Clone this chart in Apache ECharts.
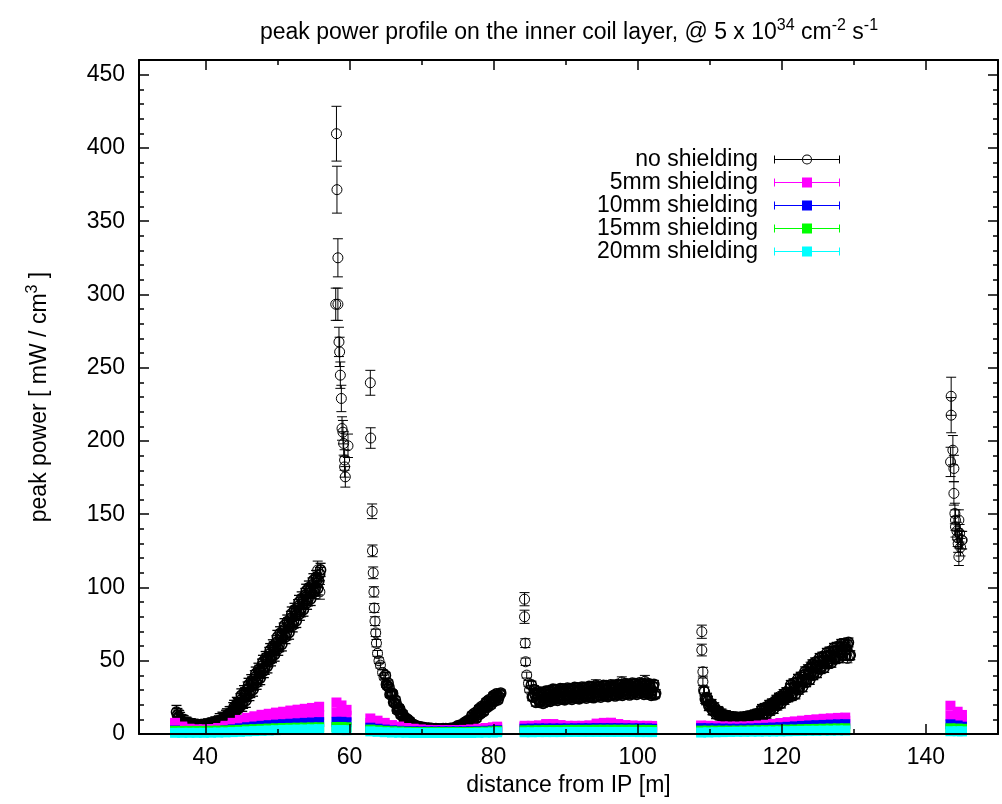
<!DOCTYPE html>
<html>
<head>
<meta charset="utf-8">
<script src="https://cdn.jsdelivr.net/npm/echarts@6/dist/echarts.min.js"></script>
<style>
  html, body { margin: 0; padding: 0; background: #fff; }
  #chart { width: 1002px; height: 804px; }
</style>
</head>
<body>
<div id="chart"></div>
<script>
const FONT = '"Liberation Sans", Arial, Helvetica, sans-serif';
const FS = 23;

// axis tick positions
const xTicks = [40, 60, 80, 100, 120, 140];
const xMinorTicks = [50, 70, 90, 110, 130];
const yTicks = [0, 50, 100, 150, 200, 250, 300, 350, 400, 450];
const yMinorTicks = [10, 20, 30, 40, 60, 70, 80, 90, 110, 120, 130, 140, 160, 170, 180, 190,
  210, 220, 230, 240, 260, 270, 280, 290, 310, 320, 330, 340, 360, 370, 380, 390,
  410, 420, 430, 440];

// ---- no shielding: isolated points [z (m), power, error] ----
const bareIsolatedA = [[55.6, 112, 6], [55.9, 97, 5]];
const bareIsolatedB = [[58.2, 409.7, 18.7], [58.27, 371.5, 16], [58.4, 325, 13], [58.1, 293.3, 11],
  [58.4, 293.3, 11], [58.55, 267.6, 10], [58.64, 260.8, 10], [58.74, 244.9, 9], [58.88, 229, 9],
  [58.97, 208.5, 8], [59.1, 206, 8], [59.2, 198.3, 8], [59.8, 196.7, 8], [59.33, 187, 7],
  [59.33, 182.3, 7], [59.43, 175.5, 7]];
const bareIsolatedC = [[62.9, 239.7, 8.5], [62.95, 202, 7], [63.15, 152, 5], [63.2, 125, 4],
  [63.3, 110, 4], [63.4, 97, 3.5], [63.45, 86, 3], [63.55, 77, 3], [63.65, 69, 2.5],
  [63.75, 62, 2.5], [63.9, 55, 2], [64.1, 50, 2], [64.3, 47, 2], [64.6, 42, 2], [64.8, 39, 2]];
const bareIsolatedD = [[84.3, 92, 4.5], [84.3, 80, 4.5], [84.4, 62, 3], [84.45, 49.3, 2.5],
  [84.6, 40.2, 2], [84.85, 34.6, 2], [85.0, 30, 1.5], [94.2, 33.5, 3.5], [97.8, 35.5, 3.5],
  [101.0, 36, 4]];
const bareIsolatedE = [[108.9, 69.8, 4.5], [108.9, 57.3, 4], [109.05, 42.5, 3], [109.05, 35.7, 2.5],
  [109.15, 30, 2], [119.6, 25.4, 2.5], [124.0, 46, 3], [128.9, 60.7, 3.5], [129.1, 51.6, 3]];
const bareIsolatedF = [[143.5, 230.5, 13], [143.5, 217.6, 12], [143.74, 193.7, 10], [143.42, 185.7, 10],
  [143.88, 181.2, 9], [143.88, 164.2, 8], [144.02, 150.5, 7], [144.1, 146, 7], [144.1, 141.4, 7],
  [144.57, 146, 7], [144.67, 137, 6], [144.95, 132.3, 6], [145.03, 132.3, 6], [144.47, 130, 6],
  [144.57, 121, 6], [144.3, 138.5, 6], [144.8, 127.5, 6], [144.4, 134, 6]];

// ---- no shielding: densely sampled stretches (0.125 m spacing) ----
const bareRunA = [
  15.0, 12.9, 11.8, 11.5, 10.2, 8.8, 8.4, 8.3, 8.0, 6.8, 6.6, 7.0, 6.4, 5.5, 5.7, 5.9,
  5.9, 4.9, 5.0, 5.6, 5.2, 4.5, 4.8, 5.2, 5.3, 4.4, 4.6, 5.3, 5.0, 4.4, 4.8, 5.3,
  5.5, 4.7, 5.0, 5.8, 5.6, 5.1, 5.6, 6.2, 6.5, 5.8, 6.2, 7.1, 7.0, 6.6, 7.2, 7.9,
  9.4, 7.0, 7.9, 10.4, 9.9, 8.4, 10.0, 11.7, 12.7, 10.6, 11.6, 14.2, 14.2, 11.6, 14.2, 16.9,
  18.5, 14.8, 16.3, 20.5, 19.8, 17.3, 20.1, 23.0, 26.3, 20.0, 22.0, 28.5, 27.0, 22.7, 26.8, 31.0,
  33.5, 27.3, 29.4, 36.0, 34.5, 30.3, 34.5, 38.7, 41.2, 35.0, 37.2, 43.8, 42.4, 38.2, 42.4, 46.6,
  49.2, 43.0, 45.2, 51.8, 50.4, 46.2, 50.4, 54.6, 57.2, 51.0, 53.2, 59.8, 58.4, 54.2, 58.4, 62.6,
  66.2, 58.2, 60.7, 68.7, 66.7, 61.2, 66.2, 71.2, 74.2, 66.2, 68.7, 76.7, 74.7, 69.2, 74.2, 79.2,
  82.2, 74.2, 76.7, 84.7, 82.7, 77.2, 82.2, 87.2, 90.1, 82.1, 84.5, 92.5, 90.4, 84.9, 89.8, 94.8,
  97.7, 89.6, 92.0, 99.9, 97.8, 92.2, 97.1, 102.0, 104.9, 96.8, 99.2, 107.1, 105.0, 99.4, 104.3, 109.2,
  112.0];
const bareRunC = [
  40.0, 33.8, 32.8, 34.8, 31.8, 27.0, 27.5, 28.0, 27.5, 21.7, 21.1, 23.3, 20.6, 16.2, 17.0, 17.9,
  16.8, 13.2, 12.7, 13.9, 12.2, 9.5, 9.9, 10.5, 10.4, 7.2, 7.2, 8.8, 7.2, 6.1, 6.2, 6.4,
  6.3, 5.0, 4.9, 5.5, 5.0, 4.3, 4.4, 4.7, 4.8, 3.6, 3.7, 4.4, 4.0, 3.1, 3.5, 3.9,
  4.1, 3.0, 3.1, 3.9, 3.5, 2.7, 3.1, 3.6, 3.8, 2.7, 2.8, 3.6, 3.3, 2.5, 3.0, 3.5,
  3.7, 2.6, 2.8, 3.7, 3.4, 2.6, 3.1, 3.6, 3.9, 2.9, 3.1, 4.0, 3.8, 3.1, 3.7, 4.3,
  5.6, 3.1, 3.8, 6.1, 5.5, 3.9, 5.4, 7.0, 8.0, 5.7, 6.6, 9.1, 8.7, 7.2, 8.9, 10.7,
  12.8, 8.9, 10.2, 14.3, 13.4, 10.7, 13.2, 15.8, 17.4, 13.5, 14.8, 18.9, 18.0, 15.3, 17.8, 20.4,
  22.0, 18.1, 19.4, 23.4, 22.5, 19.8, 22.3, 24.8, 26.3, 22.3, 23.5, 27.4, 26.3, 23.3, 25.5, 27.3,
  28.0];
const bareRunD = [
  33.5, 25.3, 25.5, 30.4, 27.2, 21.6, 24.4, 27.4, 28.8, 21.6, 22.7, 28.4, 26.0, 20.9, 24.2, 27.6,
  29.3, 22.3, 23.6, 29.4, 27.2, 22.3, 25.7, 29.0, 30.6, 23.5, 24.7, 30.4, 28.0, 22.9, 26.1, 29.4,
  31.0, 23.9, 25.1, 30.8, 28.4, 23.3, 26.5, 29.8, 31.4, 24.3, 25.5, 31.1, 28.8, 23.6, 26.9, 30.1,
  31.8, 24.6, 25.9, 31.5, 29.2, 24.0, 27.2, 30.5, 32.1, 25.0, 26.2, 31.9, 29.5, 24.4, 27.6, 30.9,
  32.5, 25.4, 26.6, 32.2, 29.9, 24.7, 28.0, 31.2, 32.9, 25.7, 27.0, 32.6, 30.3, 25.1, 28.3, 31.6,
  33.2, 26.1, 27.3, 33.0, 30.6, 25.5, 28.7, 32.0, 33.6, 26.5, 27.7, 33.4, 31.0, 25.9, 29.1, 32.4,
  34.0, 26.9, 28.1, 33.8, 31.4, 26.3, 29.5, 32.7, 34.4, 27.2, 28.5, 34.1, 31.8, 26.6, 29.9, 33.1,
  34.8, 27.6, 28.9, 34.5, 32.2, 27.0, 30.2, 33.4, 35.0, 27.8, 29.0, 34.6, 32.2, 27.0, 30.2, 33.3,
  34.8, 27.5, 28.6, 34.1, 31.6, 26.3, 29.4, 32.5, 34.0, 26.7, 27.8];
const bareRunE = [
  29.0, 23.9, 23.0, 24.8, 22.6, 19.0, 19.6, 20.5, 20.5, 16.2, 16.0, 18.3, 16.6, 13.5, 14.6, 15.7,
  15.2, 12.7, 12.7, 14.0, 13.0, 11.1, 11.8, 12.5, 12.8, 10.5, 10.7, 12.2, 11.4, 9.7, 10.6, 11.4,
  11.8, 9.6, 9.9, 11.5, 10.8, 9.2, 10.2, 11.1, 11.6, 9.5, 9.9, 11.6, 11.0, 9.5, 10.6, 11.6,
  12.2, 10.1, 10.6, 12.4, 11.9, 10.5, 11.6, 12.7, 13.4, 11.4, 12.0, 13.9, 13.5, 12.4, 13.5, 15.8,
  17.1, 12.9, 14.0, 17.8, 16.7, 13.8, 16.1, 18.5, 19.9, 15.8, 17.0, 20.9, 19.9, 17.1, 19.5, 22.0,
  23.4, 19.4, 20.6, 24.6, 23.6, 20.8, 23.3, 25.8, 27.3, 23.3, 24.6, 28.6, 27.7, 25.0, 27.1, 31.2,
  33.5, 25.9, 27.8, 34.6, 32.4, 27.0, 31.1, 35.3, 37.7, 30.2, 32.2, 39.1, 37.1, 31.9, 36.1, 40.4,
  42.8, 35.3, 37.3, 44.2, 42.2, 36.9, 41.1, 45.3, 47.6, 40.1, 42.0, 48.9, 46.8, 41.5, 45.6, 49.7,
  51.9, 44.3, 46.1, 52.8, 50.5, 45.1, 49.1, 53.2, 55.4, 47.8, 49.6, 56.3, 54.0, 48.6, 52.6, 56.6,
  58.8, 51.1, 52.8, 59.5, 57.2, 51.7, 55.6, 59.5, 61.5, 53.7, 55.3, 61.8, 59.4, 53.8, 57.6, 61.0,
  62.5, 53.4, 53.8];

// first z, spacing and typical error bar of each dense stretch
const bareRunSpecs = [
  { z0: 36.0, dz: 0.125, err: 4.5, values: bareRunA },
  { z0: 65.0, dz: 0.125, err: 2.0, values: bareRunC },
  { z0: 85.25, dz: 0.125, err: 2.5, values: bareRunD },
  { z0: 109.25, dz: 0.125, err: 3.0, values: bareRunE }
];

// ---- shielded cases: columns along z shared by all four thicknesses ----
const shieldZ = [
  35.8, 36.8, 37.8, 38.8, 39.8, 40.8, 41.8, 42.8, 43.8, 44.8, 45.8, 46.8, 47.8, 48.8, 49.8, 50.8,
  51.8, 52.8, 53.8, 54.8, 55.8,
  58.2, 58.9, 59.6,
  62.9, 63.9, 64.9, 65.9, 66.9, 67.9, 68.9, 69.9, 70.9, 71.9, 72.9, 73.9, 74.9, 75.9, 76.9, 77.9,
  78.9, 79.9, 80.5,
  84.3, 85.3, 86.3, 87.3, 88.3, 89.3, 90.3, 91.3, 92.3, 93.3, 94.3, 95.3, 96.3, 97.3, 98.3, 99.3,
  100.3, 101.3, 102.0,
  108.8, 109.8, 110.8, 111.8, 112.8, 113.8, 114.8, 115.8, 116.8, 117.8, 118.8, 119.8, 120.8, 121.8,
  122.8, 123.8, 124.8, 125.8, 126.8, 127.8, 128.8,
  143.4, 144.4, 145.0];
// 5 mm: upper and lower values found at each column
const shield5Upper = [
  7.6, 5.1, 3.6, 3.1, 3.1, 3.4, 4.1, 5.6, 7.6, 9.6, 11.1, 12.1, 13.1, 13.8, 14.6, 15.2, 16.0, 16.6,
  17.2, 17.8, 18.6,
  21.5, 19.5, 16.5,
  10.6, 9.1, 7.6, 6.1, 5.1, 4.1, 3.6, 3.1, 2.8, 2.6, 2.6, 2.6, 2.6, 2.8, 3.1, 3.6, 4.1, 4.6, 5.0,
  5.6, 5.6, 5.9, 6.8, 6.8, 6.1, 5.6, 5.6, 5.6, 5.9, 7.1, 7.6, 7.7, 6.8, 6.1, 5.8, 5.6, 5.6, 5.5,
  5.8, 5.6, 5.4, 5.2, 5.1, 5.1, 5.2, 5.4, 5.8, 6.3, 6.9, 7.5, 8.1, 8.6, 9.1, 9.6, 10.0, 10.4, 10.7,
  11.0, 11.2,
  19.3, 15.2, 13.0];
const shield5Lower = [
  6.0, 4.5, 3.3, 3.0, 3.0, 3.2, 3.8, 4.8, 6.0, 7.2, 8.2, 9.0, 9.8, 10.3, 10.8, 11.2, 11.6, 12.0,
  12.3, 12.6, 12.9,
  14.8, 14.0, 12.5,
  7.5, 6.5, 5.5, 4.5, 4.0, 3.3, 3.0, 2.8, 2.6, 2.5, 2.5, 2.5, 2.5, 2.6, 2.8, 3.0, 3.3, 3.8, 4.0,
  4.8, 4.8, 5.0, 5.4, 5.4, 5.0, 4.8, 4.8, 4.8, 5.0, 5.6, 5.8, 5.9, 5.4, 5.0, 4.9, 4.8, 4.8, 4.7,
  5.0, 4.8, 4.6, 4.5, 4.4, 4.4, 4.5, 4.6, 5.0, 5.3, 5.7, 6.1, 6.5, 6.9, 7.3, 7.7, 8.0, 8.3, 8.6,
  8.8, 9.0,
  12.5, 10.5, 9.5];
const shield10 = [
  2.4, 1.9, 1.6, 1.6, 1.6, 1.8, 2.1, 2.6, 3.2, 3.9, 4.6, 5.1, 5.6, 6.0, 6.4, 6.7, 7.0, 7.3, 7.6,
  7.8, 8.1,
  8.3, 8.3, 8.0,
  4.3, 3.6, 3.0, 2.5, 2.2, 2.0, 1.9, 1.8, 1.8, 1.8, 1.8, 1.8, 1.8, 1.8, 1.9, 2.0, 2.2, 2.4, 2.6,
  3.6, 3.7, 3.8, 3.8, 3.8, 3.8, 3.8, 3.9, 3.9, 3.9, 4.0, 4.0, 4.0, 4.0, 3.9, 3.9, 3.9, 3.8, 3.6,
  4.0, 3.9, 3.8, 3.7, 3.6, 3.6, 3.7, 3.8, 4.0, 4.2, 4.4, 4.6, 4.9, 5.2, 5.5, 5.8, 6.0, 6.2, 6.4,
  6.6, 6.7,
  6.6, 5.8, 5.0];
const shield15 = [
  2.1, 2.1, 2.1, 2.1, 2.1, 2.2, 2.3, 2.4, 2.6, 2.8, 3.1, 3.3, 3.5, 3.7, 3.9, 4.1, 4.2, 4.3, 4.4,
  4.5, 4.6,
  4.8, 4.8, 4.6,
  3.0, 2.6, 2.2, 1.9, 1.7, 1.5, 1.4, 1.3, 1.3, 1.3, 1.3, 1.3, 1.3, 1.3, 1.4, 1.5, 1.6, 1.8, 2.0,
  2.5, 2.5, 2.6, 2.7, 2.7, 2.7, 2.8, 2.8, 2.8, 2.8, 2.9, 2.9, 2.9, 2.9, 2.9, 2.9, 2.8, 2.8, 2.7,
  2.3, 2.3, 2.3, 2.3, 2.3, 2.3, 2.4, 2.5, 2.6, 2.7, 2.8, 2.9, 3.0, 3.1, 3.3, 3.4, 3.5, 3.6, 3.7,
  3.8, 3.9,
  3.9, 3.7, 3.5];
const shield20 = [
  0.8, 0.8, 0.8, 0.8, 0.8, 0.9, 1.0, 1.1, 1.3, 1.5, 1.8, 2.0, 2.2, 2.4, 2.6, 2.8, 2.9, 3.0, 3.1,
  3.2, 3.3,
  2.7, 2.7, 2.6,
  1.8, 1.5, 1.2, 1.0, 0.9, 0.8, 0.7, 0.7, 0.7, 0.7, 0.7, 0.7, 0.7, 0.7, 0.7, 0.8, 0.9, 1.0, 1.2,
  1.2, 1.2, 1.3, 1.3, 1.3, 1.3, 1.4, 1.4, 1.4, 1.4, 1.4, 1.4, 1.4, 1.4, 1.4, 1.4, 1.3, 1.3, 1.3,
  1.0, 1.1, 1.2, 1.3, 1.4, 1.5, 1.5, 1.6, 1.6, 1.7, 1.7, 1.8, 1.9, 2.0, 2.1, 2.2, 2.2, 2.3, 2.3,
  2.4, 2.4,
  1.9, 1.9, 1.8];

const seriesNames = ['no shielding', '5mm shielding', '10mm shielding', '15mm shielding', '20mm shielding'];
const seriesColors = ['#000000', '#ff00ff', '#0000ff', '#00ff00', '#00ffff'];

// ---- assemble point lists ----
function expandRun(spec) {
  return spec.values.map((v, i) => [+(spec.z0 + i * spec.dz).toFixed(3), v, spec.err]);
}
const bareSparse = [].concat(bareIsolatedA, bareIsolatedB, bareIsolatedC, bareIsolatedD,
  bareIsolatedE, bareIsolatedF);
let bareDense = [];
bareRunSpecs.forEach(s => { bareDense = bareDense.concat(expandRun(s)); });

function columns(values) { return shieldZ.map((z, i) => [z, values[i]]); }

// key samples: a horizontal error bar with the point symbol in its middle
const keyRing = 'path://M0,4.5H28V5.5H0Z M38,4.5H66V5.5H38Z M29.1,4.5H36.9V5.5H29.1Z ' +
  'M0,1H1V9H0Z M65,1H66V9H65Z ' +
  'M28,5A5,5,0,1,0,38,5A5,5,0,1,0,28,5Z M29,5A4,4,0,1,1,37,5A4,4,0,1,1,29,5Z';
const keySquare = 'path://M0,4.5H66V5.5H0Z M0,1H1V9H0Z M65,1H66V9H65Z M28,0H38V10H28Z';

const tickText = { color: '#000', fontFamily: FONT, fontSize: FS, fontWeight: 'normal' };

function xAxisDef(position, ticks, len, withLine, withLabels) {
  return {
    type: 'value', min: 30.8, max: 150, position: position, z: 5,
    axisLine: { show: withLine, onZero: false, lineStyle: { color: '#000', width: 2 } },
    axisTick: { show: true, inside: true, length: len, customValues: ticks,
      lineStyle: { color: '#000', width: 1.5 } },
    axisLabel: withLabels ? Object.assign({ show: true, customValues: ticks, margin: 12 }, tickText)
                          : { show: false },
    splitLine: { show: false }, minorTick: { show: false }
  };
}
function yAxisDef(position, ticks, len, withLine, withLabels) {
  return {
    type: 'value', min: 0, max: 460, position: position, z: 5,
    axisLine: { show: withLine, onZero: false, lineStyle: { color: '#000', width: 2 } },
    axisTick: { show: true, inside: true, length: len, customValues: ticks,
      lineStyle: { color: '#000', width: 1.5 } },
    axisLabel: withLabels ? Object.assign({ show: true, customValues: ticks, margin: 14 }, tickText)
                          : { show: false },
    splitLine: { show: false }, minorTick: { show: false }
  };
}

const supRich = {
  b: { color: '#000', fontFamily: FONT, fontSize: FS, fontWeight: 'normal', lineHeight: 30 },
  s: { color: '#000', fontFamily: FONT, fontSize: 16, fontWeight: 'normal', verticalAlign: 'top' }
};

const xMain = xAxisDef('bottom', xTicks, 10, true, true);
xMain.name = 'distance from IP [m]';
xMain.nameLocation = 'middle';
xMain.nameGap = 38;
xMain.nameTextStyle = { color: '#000', fontFamily: FONT, fontSize: FS, fontWeight: 'normal' };

const yMain = yAxisDef('left', yTicks, 10, true, true);
yMain.name = '{b|peak power [ mW / cm}{s|3}{b| ]}';
yMain.nameLocation = 'middle';
yMain.nameGap = 84;
yMain.nameRotate = 90;
yMain.nameTextStyle = { rich: supRich };

function errorBarRenderer(width) {
  return function (params, api) {
    const x = api.value(0), y = api.value(1), e = api.value(2);
    const top = api.coord([x, y + e]);
    const bot = api.coord([x, y - e]);
    const hw = 5;
    const st = { stroke: '#000', lineWidth: width };
    return {
      type: 'group',
      children: [
        { type: 'line', shape: { x1: top[0], y1: top[1], x2: bot[0], y2: bot[1] }, style: st },
        { type: 'line', shape: { x1: top[0] - hw, y1: top[1], x2: top[0] + hw, y2: top[1] }, style: st },
        { type: 'line', shape: { x1: bot[0] - hw, y1: bot[1], x2: bot[0] + hw, y2: bot[1] }, style: st }
      ]
    };
  };
}

function ringSeries(data, width) {
  return {
    name: seriesNames[0], type: 'scatter', clip: false, symbol: 'circle', symbolSize: 10,
    itemStyle: { color: 'rgba(0,0,0,0)', borderColor: '#000', borderWidth: width, opacity: 1 },
    data: data.map(p => [p[0], p[1]])
  };
}
function barSeries(data, width) {
  return { name: seriesNames[0], type: 'custom', clip: false, renderItem: errorBarRenderer(width), data: data };
}
function shieldSeries(i, data) {
  return {
    name: seriesNames[i], type: 'scatter', clip: false, symbol: 'rect', symbolSize: 10,
    itemStyle: { color: seriesColors[i], opacity: 1 }, data: data
  };
}

const chart = echarts.init(document.getElementById('chart'), null, { renderer: 'canvas' });
chart.setOption({
  backgroundColor: '#fff',
  animation: false,
  title: {
    text: '{b|peak power profile on the inner coil layer, @ 5 x 10}{s|34}{b| cm}{s|-2}{b| s}{s|-1}',
    left: 569, top: 18, padding: 0, textAlign: 'center',
    textStyle: { fontWeight: 'normal', rich: supRich }
  },
  grid: { left: 139, right: 4, top: 60, bottom: 70, containLabel: false, outerBoundsMode: 'none' },
  legend: {
    orient: 'vertical', align: 'right', right: 162, top: 148, padding: 0,
    itemWidth: 66, itemHeight: 10, itemGap: 0,
    selectedMode: false,
    textStyle: { color: '#000', fontFamily: FONT, fontSize: FS, padding: [0, 11, 0, 0] },
    data: seriesNames.map((n, i) => ({
      name: n, icon: i === 0 ? keyRing : keySquare,
      itemStyle: { color: seriesColors[i], borderWidth: 0, opacity: 1 }
    }))
  },
  xAxis: [
    xMain,
    xAxisDef('bottom', xMinorTicks, 5, false, false),
    xAxisDef('top', xTicks, 10, true, false),
    xAxisDef('top', xMinorTicks, 5, false, false)
  ],
  yAxis: [
    yMain,
    yAxisDef('left', yMinorTicks, 5, false, false),
    yAxisDef('right', yTicks, 10, true, false),
    yAxisDef('right', yMinorTicks, 5, false, false)
  ],
  series: [
    ringSeries(bareDense, 1.6),
    barSeries(bareDense, 1.3),
    ringSeries(bareSparse, 1),
    barSeries(bareSparse, 1),
    shieldSeries(1, columns(shield5Lower).concat(columns(shield5Upper))),
    shieldSeries(2, columns(shield10)),
    shieldSeries(3, columns(shield15)),
    shieldSeries(4, columns(shield20))
  ]
});
</script>
</body>
</html>
